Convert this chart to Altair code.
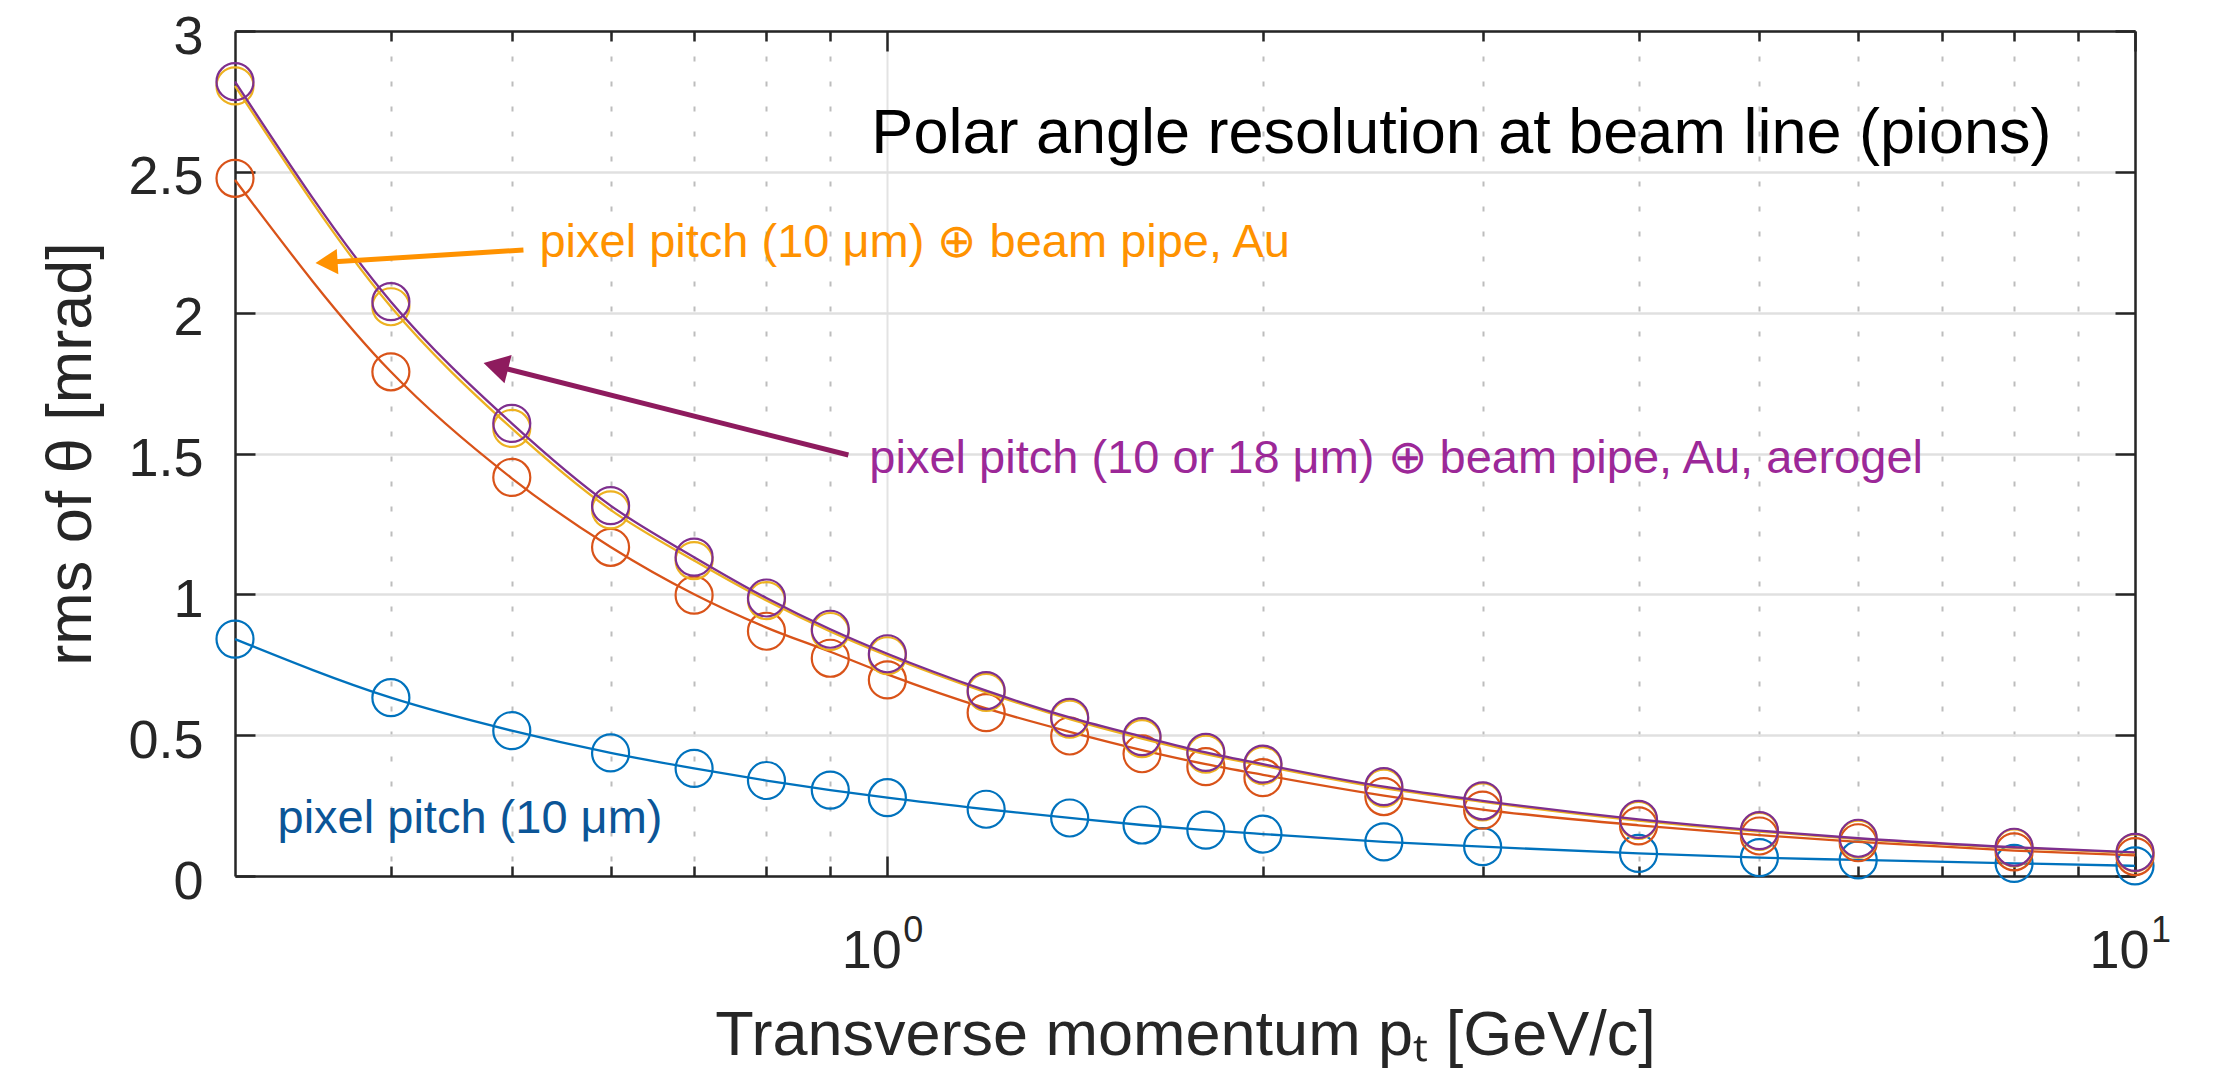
import altair as alt
import pandas as pd

# ---------------- data ----------------
pt = [0.3, 0.4, 0.5, 0.6, 0.7, 0.8, 0.9, 1.0, 1.2, 1.4, 1.6, 1.8, 2.0, 2.5, 3, 4, 5, 6, 8, 10]

res_pixel = [0.841, 0.633, 0.516, 0.437, 0.382, 0.339, 0.305, 0.278, 0.237, 0.206,
             0.181, 0.163, 0.149, 0.121, 0.104, 0.080, 0.065, 0.057, 0.045, 0.036]
res_pipe = [2.477, 1.790, 1.415, 1.167, 0.997, 0.869, 0.773, 0.696, 0.580, 0.497,
            0.434, 0.388, 0.349, 0.282, 0.234, 0.178, 0.142, 0.118, 0.086, 0.069]
res_pipe_fit = [2.471, 1.790, 1.412, 1.168, 1.000, 0.882, 0.796, 0.716, 0.595, 0.512,
                0.447, 0.397, 0.359, 0.285, 0.236, 0.180, 0.145, 0.121, 0.090, 0.073]
res_au = [2.805, 2.021, 1.589, 1.300, 1.120, 0.978, 0.868, 0.782, 0.652, 0.557,
          0.488, 0.433, 0.392, 0.312, 0.263, 0.197, 0.158, 0.131, 0.100, 0.082]
res_aerogel = [2.820, 2.039, 1.607, 1.315, 1.132, 0.987, 0.876, 0.789, 0.658, 0.563,
               0.495, 0.439, 0.397, 0.317, 0.267, 0.201, 0.161, 0.134, 0.102, 0.084]

series_colors = ["#0072BD", "#D95319", "#EDB120", "#7E2F8E"]

x_major = [1, 10]
x_exponent = ["0", "1"]
x_minor = [0.4, 0.5, 0.6, 0.7, 0.8, 0.9, 2, 3, 4, 5, 6, 7, 8, 9]
y_ticks = [0, 0.5, 1, 1.5, 2, 2.5, 3]

# annotations
ann_text = ["Polar angle resolution at beam line (pions)",
            "pixel pitch (10 μm) ⊕ beam pipe, Au",
            "pixel pitch (10 or 18 μm) ⊕ beam pipe, Au, aerogel",
            "pixel pitch (10 μm)"]
ann_x = [0.9709, 0.5262, 0.9673, 0.3245]
ann_y = [2.567, 2.198, 1.431, 0.153]
ann_color = ["#000000", "#FF9200", "#9C2898", "#0B5597"]
ann_size = [63, 47, 47, 47]

arrow_x = [0.5109, 0.9306]
arrow_y = [2.2225, 1.4947]
arrow_x2 = [0.3552, 0.4855]
arrow_y2 = [2.1788, 1.8103]
arrow_angle = [266.4, 284.15]
arrow_head = [650, 850]
arrow_color = ["#FF9200", "#8E1B5E"]

# ---------------- styling ----------------
FONT = "Liberation Sans"
AX = "#262626"
W, H = 1900, 845
EXP_Y = -0.234  # baseline of the tick-label exponents, in data units below the axis

xs = alt.Scale(type="log", domain=[0.3, 10], nice=False)
ys = alt.Scale(domain=[0, 3], nice=False, zero=False)

ax_x_main = alt.Axis(orient="bottom", values=x_major, labelExpr="'10'",
                     labelFont=FONT, labelFontSize=54, labelColor=AX, labelPadding=48,
                     labelOffset=-16, labelFlush=False, labelOverlap=False,
                     ticks=False, tickSize=0, domain=True, domainColor=AX, domainWidth=2.5,
                     grid=True, gridColor="#E3E3E3", gridWidth=2,
                     titleFont=FONT, titleFontSize=63, titleFontWeight="normal",
                     titleColor=AX, titlePadding=26)
ax_x_minorgrid = alt.Axis(orient="bottom", values=x_minor, labels=False, ticks=False,
                          domain=False, grid=True, gridDash=[5, 20],
                          gridColor="#BDBDBD", gridWidth=2)
ax_x_bot_major = alt.Axis(orient="bottom", offset=-20, values=x_major, tickSize=20,
                          tickWidth=2.5, tickColor=AX, labels=False, domain=False, grid=False)
ax_x_bot_minor = alt.Axis(orient="bottom", offset=-10, values=x_minor, tickSize=10,
                          tickWidth=2.5, tickColor=AX, labels=False, domain=False, grid=False)
ax_x_top_domain = alt.Axis(orient="top", values=x_major, ticks=False, tickSize=0, labels=False,
                           domain=True, domainColor=AX, domainWidth=2.5, grid=False)
ax_x_top_major = alt.Axis(orient="top", offset=-20, values=x_major, tickSize=20,
                          tickWidth=2.5, tickColor=AX, labels=False, domain=False, grid=False)
ax_x_top_minor = alt.Axis(orient="top", offset=-10, values=x_minor, tickSize=10,
                          tickWidth=2.5, tickColor=AX, labels=False, domain=False, grid=False)

ax_y_main = alt.Axis(orient="left", values=y_ticks, format="~g",
                     labelFont=FONT, labelFontSize=54, labelColor=AX, labelPadding=32,
                     labelOffset=6, labelFlush=False, labelOverlap=False,
                     ticks=False, tickSize=0, domain=True, domainColor=AX, domainWidth=2.5,
                     grid=True, gridColor="#E0E0E0", gridWidth=2.5,
                     titleFont=FONT, titleFontSize=63, titleFontWeight="normal",
                     titleColor=AX, titlePadding=24)
ax_y_left_ticks = alt.Axis(orient="left", offset=-20, values=y_ticks, tickSize=20,
                           tickWidth=2.5, tickColor=AX, labels=False, domain=False, grid=False)
ax_y_right_domain = alt.Axis(orient="right", values=y_ticks, ticks=False, tickSize=0,
                             labels=False, domain=True, domainColor=AX, domainWidth=2.5,
                             grid=False)
ax_y_right_ticks = alt.Axis(orient="right", offset=-20, values=y_ticks, tickSize=20,
                            tickWidth=2.5, tickColor=AX, labels=False, domain=False, grid=False)


def xenc(axis, title=None):
    if title is None:
        return alt.X("pt:Q", scale=xs, axis=axis, title=None)
    return alt.X("pt:Q", scale=xs, axis=axis, title=title)


def yenc(axis, title=None):
    if title is None:
        return alt.Y("v:Q", scale=ys, axis=axis, title=None)
    return alt.Y("v:Q", scale=ys, axis=axis, title=title)


def line_layer(vals, color, xax, yax, xt=None, yt=None):
    df = pd.DataFrame({"pt": pt, "v": vals})
    return alt.Chart(df).mark_line(color=color, strokeWidth=2.3, interpolate="monotone").encode(
        x=xenc(xax, xt), y=yenc(yax, yt))


def point_layer(vals, color, xax, yax):
    df = pd.DataFrame({"pt": pt, "v": vals})
    return alt.Chart(df).mark_point(shape="circle", filled=False, color=color,
                                    strokeWidth=2.2, size=1369, opacity=1).encode(
        x=xenc(xax), y=yenc(yax))


layers = [
    line_layer(res_pixel, series_colors[0], ax_x_main, ax_y_main,
               "Transverse momentum pₜ [GeV/c]", "rms of θ [mrad]"),
    point_layer(res_pixel, series_colors[0], ax_x_minorgrid, ax_y_left_ticks),
    line_layer(res_pipe_fit, series_colors[1], ax_x_bot_major, ax_y_right_domain),
    point_layer(res_pipe, series_colors[1], ax_x_bot_minor, ax_y_right_ticks),
    line_layer(res_au, series_colors[2], ax_x_top_domain, None),
    point_layer(res_au, series_colors[2], ax_x_top_major, None),
    line_layer(res_aerogel, series_colors[3], ax_x_top_minor, None),
    point_layer(res_aerogel, series_colors[3], None, None),
]

# exponents of the "10^n" tick labels
exp_df = pd.DataFrame({"x": x_major, "y": [EXP_Y] * len(x_major), "t": x_exponent})
layers.append(alt.Chart(exp_df).mark_text(align="left", baseline="alphabetic", font=FONT,
                                          fontSize=36, color=AX, dx=16).encode(
    x=alt.X("x:Q", scale=xs, axis=None), y=alt.Y("y:Q", scale=ys, axis=None), text="t:N"))

arrows = pd.DataFrame({"x": arrow_x, "y": arrow_y, "x2": arrow_x2, "y2": arrow_y2,
                       "ang": arrow_angle, "head": arrow_head, "c": arrow_color})
layers.append(alt.Chart(arrows).mark_rule(strokeWidth=5).encode(
    x=alt.X("x:Q", scale=xs, axis=None), y=alt.Y("y:Q", scale=ys, axis=None),
    x2="x2:Q", y2="y2:Q", color=alt.Color("c:N", scale=None)))
layers.append(alt.Chart(arrows).mark_point(shape="triangle-up", filled=True, opacity=1).encode(
    x=alt.X("x2:Q", scale=xs, axis=None), y=alt.Y("y2:Q", scale=ys, axis=None),
    angle=alt.Angle("ang:Q", scale=None), size=alt.Size("head:Q", scale=None),
    color=alt.Color("c:N", scale=None)))

for t, x, y, c, s in zip(ann_text, ann_x, ann_y, ann_color, ann_size):
    adf = pd.DataFrame({"x": [x], "y": [y], "t": [t]})
    layers.append(alt.Chart(adf).mark_text(align="left", baseline="alphabetic", font=FONT,
                                           fontSize=s, color=c).encode(
        x=alt.X("x:Q", scale=xs, axis=None), y=alt.Y("y:Q", scale=ys, axis=None),
        text="t:N"))

chart = alt.layer(*layers).resolve_axis(x="independent", y="independent").properties(
    width=W, height=H,
    autosize=alt.AutoSizeParams(type="none"),
    padding={"left": 227, "top": 23, "right": 80, "bottom": 195},
).configure_view(strokeOpacity=0)

chart.save("out.html", embed_options={"renderer": "svg", "actions": False})
